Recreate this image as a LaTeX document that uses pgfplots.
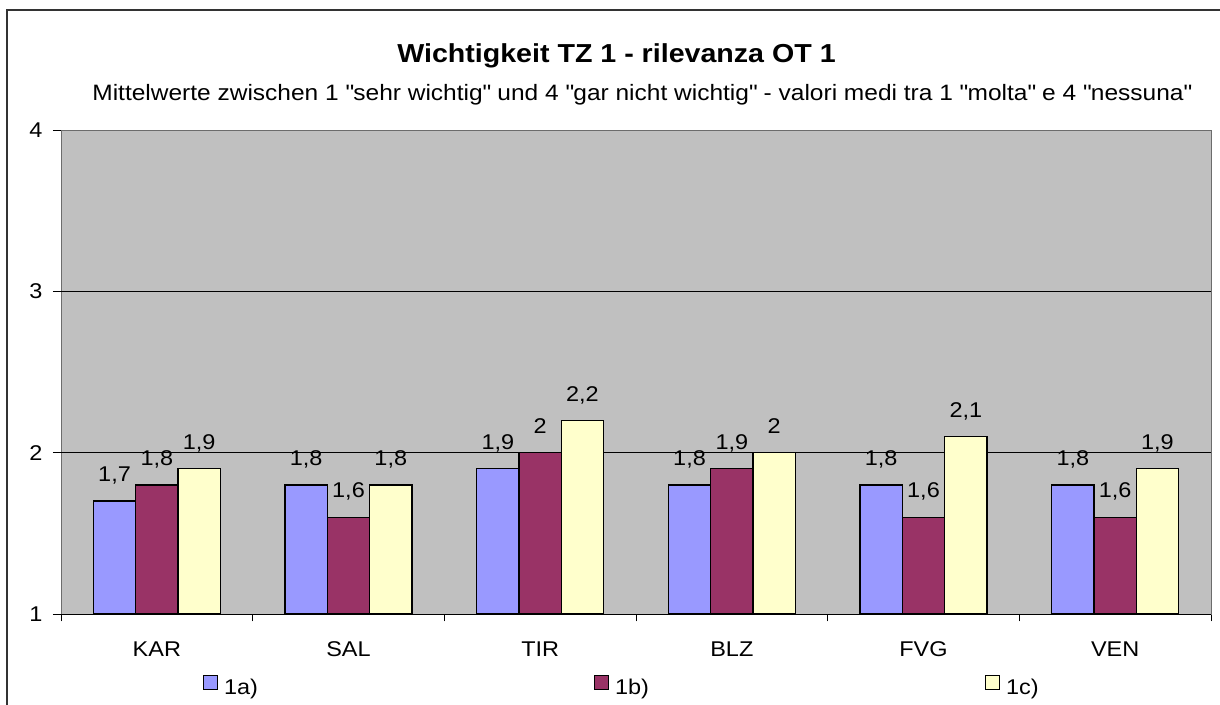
\documentclass[border=0pt]{standalone}
\usepackage{pgfplots}
\pgfplotsset{compat=1.18}
\usepackage{fontspec}
\setmainfont{Liberation Sans}[FakeStretch=1.1]
\definecolor{ca}{HTML}{9999FF}
\definecolor{cb}{HTML}{993366}
\definecolor{cc}{HTML}{FFFFCC}
\definecolor{plotbg}{HTML}{C0C0C0}
\begin{document}
\begin{tikzpicture}
\begin{axis}[
  at={(0pt,0pt)}, anchor=south west, scale only axis,
  width=862.5pt, height=363pt,
  ybar=0pt, bar width=0.2207,
  ymin=1, ymax=4, xmin=0.5, xmax=6.5,
  ytick={1,2,3,4},
  xtick={1,...,6}, xticklabels={KAR,SAL,TIR,BLZ,FVG,VEN},
  minor xtick={0.5,1.5,...,6.5},
  major x tick style={draw=none},
  tick align=outside, tick style={black, line width=0.6pt},
  major tick length=6pt, minor tick length=5.5pt,
  xtick pos=lower, ytick pos=left,
  axis background/.style={fill=plotbg},
  axis line style={draw=gray!85!black, line width=0.7pt},
  extra y ticks={1,2,3}, extra y tick labels={},
  extra y tick style={grid=major, major tick length=0pt},
  grid style={black, line width=0.6pt},
  tick label style={font=\fontsize{16}{19}\selectfont},
  /pgf/number format/.cd, use comma, assume math mode=true, /pgfplots/.cd,
  yticklabel style={anchor=east, inner sep=0pt, xshift=-7.7pt},
  xticklabel style={anchor=base, yshift=-26pt},
  nodes near coords,
  every node near coord/.append style={font=\fontsize{16}{19}\selectfont, anchor=base, yshift=14.5pt, black},
  legend columns=3,
  legend style={at={(0.1235,0)}, anchor=west, yshift=-54pt, draw=none, fill=none,
    inner sep=0pt, outer sep=0pt, font=\fontsize{16}{19}\selectfont,
    nodes={inner sep=0pt},
    /tikz/every odd column/.append style={column sep=4.5pt},
    /tikz/every even column/.append style={column sep=252pt}},
  legend image code/.code={\draw[#1, draw=black, line width=0.8pt] (0pt,-1.2pt) rectangle (10.5pt,9.3pt);},
  every axis plot/.append style={draw=black, line width=0.9pt},
]
\coordinate (O) at (rel axis cs:0,0);
\addplot[fill=ca] coordinates {(1,1.7) (2,1.8) (3,1.9) (4,1.8) (5,1.8) (6,1.8)};
\addplot[fill=cb] coordinates {(1,1.8) (2,1.6) (3,2) (4,1.9) (5,1.6) (6,1.6)};
\addplot[fill=cc] coordinates {(1,1.9) (2,1.8) (3,2.2) (4,2) (5,2.1) (6,1.9)};
\legend{1a),1b),1c)}
\end{axis}
\pgfresetboundingbox
\begin{scope}[shift={(O)}]
\useasboundingbox (-45.75pt,-67.5pt) rectangle (869.25pt,460.5pt);
\draw[line width=1.1pt, black!80] (-40.5pt,-80pt) -- (-40.5pt,453pt) -- (900pt,453pt);
\node[anchor=base, inner sep=0pt, font=\bfseries\fontsize{19.5}{22}\selectfont] at (416.6pt,413.25pt) {Wichtigkeit TZ 1 - rilevanza OT 1};
\node[anchor=base, inner sep=0pt, font=\fontsize{16.7}{20}\selectfont] at (435.75pt,384.75pt) {Mittelwerte zwischen 1 \textquotedbl sehr wichtig\textquotedbl{} und 4 \textquotedbl gar nicht wichtig\textquotedbl{} - valori medi tra 1 \textquotedbl molta\textquotedbl{} e 4 \textquotedbl nessuna\textquotedbl};
\end{scope}
\end{tikzpicture}
\end{document}
